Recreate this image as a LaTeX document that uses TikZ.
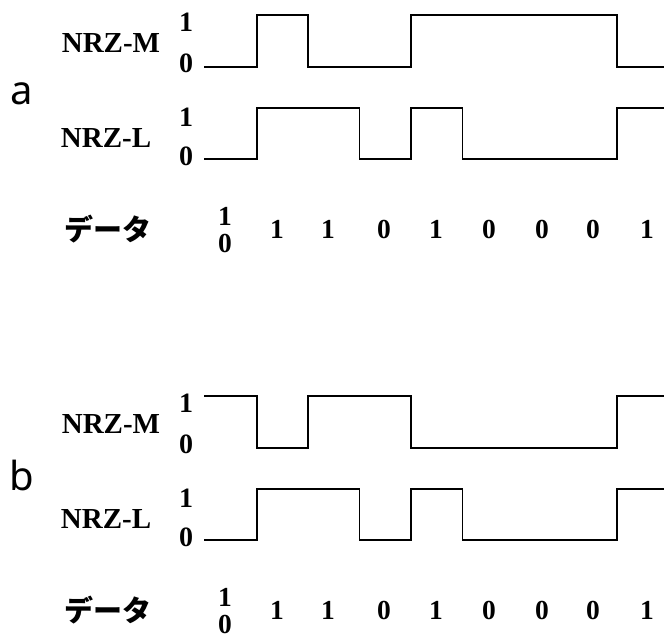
\documentclass[tikz,border=0pt]{standalone}
\usepackage{fontspec}
\setmainfont{Liberation Serif}
\newfontfamily\jpfont{Noto Sans CJK JP}
\newfontfamily\tagfont{Noto Sans}
\tikzset{
  wave/.style={line width=1.9pt, line join=miter, line cap=rect},
  siglabel/.style={font=\fontsize{29}{29}\selectfont\bfseries, inner sep=0pt},
  lvl/.style={font=\fontsize{28}{28}\selectfont\bfseries, inner sep=0pt},
  bit/.style={font=\fontsize{27.5}{27.5}\selectfont\bfseries, inner sep=0pt},
  datalabel/.style={font=\jpfont\fontsize{29}{29}\selectfont\bfseries, inner sep=0pt},
  paneltag/.style={font=\tagfont\fontsize{40}{40}\selectfont, inner sep=0pt}
}
\begin{document}
\begin{tikzpicture}[x=1pt, y=-1pt]
\useasboundingbox (0,0) rectangle (664,639);

% bit boundaries
\def\tA{205}\def\tB{257}\def\tC{308}\def\tD{359.5}\def\tE{411}
\def\tF{462.5}\def\tG{514}\def\tH{565.5}\def\tI{617}\def\tEnd{664}

\foreach \dy/\tag/\mhi in {0/a/0, 381/b/1} {
  \begin{scope}[yshift=-\dy pt]
    % panel tag
    \node[paneltag] (tag\tag) at (22,94) {\tag};
    % signal names and level marks
    \node[siglabel] (m\tag) at (111,43) {NRZ-M};
    \node[lvl] (mone\tag) at (186,22) {1};
    \node[lvl] (mzero\tag) at (186,63) {0};
    \node[siglabel] (l\tag) at (106,138) {NRZ-L};
    \node[lvl] (lone\tag) at (186,117) {1};
    \node[lvl] (lzero\tag) at (186,156) {0};
    % NRZ-M waveform
    \ifnum\mhi=0
      \draw[wave] (\tA,67) -- (\tB,67) -- (\tB,15) -- (\tC,15) -- (\tC,67)
        -- (\tE,67) -- (\tE,15) -- (\tI,15) -- (\tI,67) -- (\tEnd,67);
    \else
      \draw[wave] (\tA,15) -- (\tB,15) -- (\tB,67) -- (\tC,67) -- (\tC,15)
        -- (\tE,15) -- (\tE,67) -- (\tI,67) -- (\tI,15) -- (\tEnd,15);
    \fi
    % NRZ-L waveform
    \draw[wave] (\tA,159) -- (\tB,159) -- (\tB,108) -- (\tD,108) -- (\tD,159)
      -- (\tE,159) -- (\tE,108) -- (\tF,108) -- (\tF,159) -- (\tI,159)
      -- (\tI,108) -- (\tEnd,108);
    % data row
    \node[datalabel] (d\tag) at (108,229) {データ};
    \node[bit] (bfirsthi\tag) at (225,216) {1};
    \node[bit] (bfirstlo\tag) at (225,243) {0};
    \foreach \x/\v [count=\i] in {277/1, 328/1, 384/0, 436/1, 489/0, 542/0, 593/0, 647/1}
      \node[bit] (b\i\tag) at (\x,229) {\v};
  \end{scope}
}
\end{tikzpicture}
\end{document}
